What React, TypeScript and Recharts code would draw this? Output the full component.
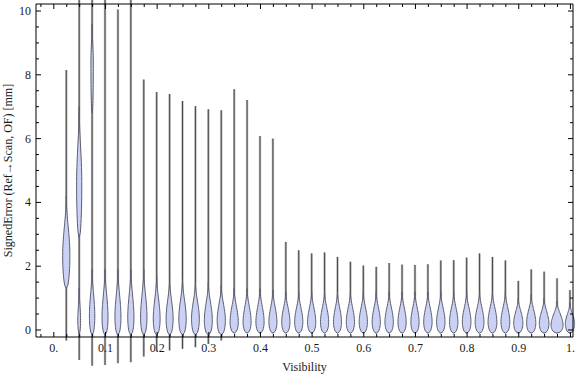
import { ComposedChart, Bar, Line, XAxis, YAxis } from 'recharts';

// Visibility bins (one violin per bin)
const visibility = [
  0.025, 0.05, 0.075, 0.1, 0.125, 0.15, 0.175, 0.2, 0.225, 0.25,
  0.275, 0.3, 0.325, 0.35, 0.375, 0.4, 0.425, 0.45, 0.475, 0.5,
  0.525, 0.55, 0.575, 0.6, 0.625, 0.65, 0.675, 0.7, 0.725, 0.75,
  0.775, 0.8, 0.825, 0.85, 0.875, 0.9, 0.925, 0.95, 0.975, 1.0,
];

// extent of each distribution [mm]
const errMin = [
  -0.33, -0.94, -1.12, -1.1, -1.04, -1.01, -0.83, -0.67, -0.64, -0.59,
  -0.54, -0.44, -0.33, -0.1, -0.1, -0.1, -0.1, -0.1, -0.1, -0.1,
  -0.1, -0.1, -0.1, -0.1, -0.1, -0.1, -0.1, -0.1, -0.1, -0.1,
  -0.1, -0.1, -0.1, -0.1, -0.1, -0.1, -0.1, -0.1, -0.1, -0.1,
];
const errMax = [
  8.15, 12, 12, 12, 10.05, 12, 7.85, 7.46, 7.4, 7.18,
  7.02, 6.92, 6.89, 7.55, 7.21, 6.08, 6.0, 2.76, 2.5, 2.4,
  2.43, 2.29, 2.14, 2.02, 1.98, 2.1, 2.05, 2.04, 2.06, 2.18,
  2.19, 2.27, 2.4, 2.29, 2.18, 1.54, 1.9, 1.83, 1.62, 1.25,
];

// main density bulge: low end, mode, high end, relative density
const bulgeLow = [
  1.3, 2.9, -0.15, -0.15, -0.15, -0.15, -0.15, -0.15, -0.15, -0.15,
  -0.15, -0.15, -0.15, -0.1, -0.1, -0.1, -0.1, -0.1, -0.1, -0.1,
  -0.1, -0.1, -0.1, -0.1, -0.1, -0.1, -0.1, -0.1, -0.1, -0.1,
  -0.1, -0.1, -0.1, -0.1, -0.1, -0.1, -0.1, -0.1, -0.1, -0.1,
];
const bulgeMode = [
  2.35, 4.6, 0.45, 0.4, 0.4, 0.4, 0.4, 0.35, 0.35, 0.35,
  0.35, 0.3, 0.3, 0.25, 0.25, 0.25, 0.25, 0.25, 0.25, 0.25,
  0.25, 0.25, 0.25, 0.25, 0.25, 0.25, 0.25, 0.25, 0.25, 0.25,
  0.25, 0.25, 0.25, 0.25, 0.25, 0.22, 0.22, 0.2, 0.15, 0.2,
];
const bulgeHigh = [
  4.2, 7.0, 1.9, 1.9, 1.9, 1.9, 1.9, 1.7, 1.6, 1.6,
  1.5, 1.5, 1.4, 1.3, 1.3, 1.3, 1.25, 1.2, 1.2, 1.2,
  1.2, 1.2, 1.2, 1.2, 1.2, 1.2, 1.2, 1.2, 1.2, 1.2,
  1.2, 1.2, 1.2, 1.2, 1.2, 1.0, 1.1, 1.0, 0.9, 0.85,
];
const bulgeDensity = [
  3.6, 2.6, 2.7, 3, 3, 3.1, 3.2, 3.4, 3.5, 3.7,
  3.9, 4, 4.1, 4.1, 4, 4.1, 4, 4.1, 4.1, 4.1,
  4.1, 4, 4.1, 4.1, 4.1, 4.2, 4.1, 4.1, 4.2, 4.2,
  4.2, 4.3, 4.4, 4.4, 4.4, 4.6, 4.6, 4.8, 6, 4.6,
];

// secondary bulge (only the low-visibility bins have one)
const bulge2Low = [null, -0.1, 6.8];
const bulge2Mode = [null, 0.3, 8.4];
const bulge2High = [null, 1.3, 9.6];
const bulge2Density = [null, 1.4, 1.2];

const X_MAJOR = [0, 0.1, 0.2, 0.3, 0.4, 0.5, 0.6, 0.7, 0.8, 0.9, 1.0];
const xTicks = Array.from({ length: 42 }, (_, i) => Math.round((i - 1) * 25) / 1000);
const yTicks = Array.from({ length: 21 }, (_, i) => i * 0.5);

const X_DOMAIN = [-0.0345, 1.005];
const Y_DOMAIN = [-0.22, 10.22];

const FONT = '"Liberation Serif", "Times New Roman", serif';
const FILL = '#cbd1f4';
const EDGE = '#5b5e6e';

// the bar spans [0, visible top]; the violin extends past it (not clipped, like the original)
const data = visibility.map((v, i) => {
  const bodies: any[] = [
    { lo: bulgeLow[i], mode: bulgeMode[i], hi: bulgeHigh[i], d: bulgeDensity[i] },
  ];
  if (bulge2Low[i] != null) {
    bodies.push({ lo: bulge2Low[i], mode: bulge2Mode[i], hi: bulge2High[i], d: bulge2Density[i] });
  }
  const top = Math.min(errMax[i], 10);
  return { v, min: errMin[i], max: errMax[i], anchor: [0, top], anchorTop: top, bodies };
});

const isMajorX = (v: number) => X_MAJOR.some((m) => Math.abs(m - v) < 1e-6);
const fmtX = (v: number) => (Math.abs(v) < 1e-6 ? '0.' : Math.abs(v - 1) < 1e-6 ? '1.' : v.toFixed(1));

function bodyPath(b: any, cx: number, py: (v: number) => number) {
  const n = 28;
  const right: [number, number][] = [];
  for (let k = 0; k <= n; k++) {
    const val = b.lo + ((b.hi - b.lo) * k) / n;
    let hw;
    if (val <= b.mode) {
      const t = (b.mode - val) / (b.mode - b.lo);
      hw = b.d * Math.sqrt(Math.max(0, 1 - t * t));
    } else {
      const s = (val - b.mode) / (b.hi - b.mode);
      hw = b.d * (1 - s) * (1 - s) * (1 + 2 * s);
    }
    right.push([hw, py(val)]);
  }
  let p = `M${cx},${right[0][1]}`;
  right.forEach(([hw, yy]) => (p += ` L${cx + hw},${yy}`));
  for (let k = right.length - 1; k >= 0; k--) p += ` L${cx - right[k][0]},${right[k][1]}`;
  return p + ' Z';
}

const Violin = (props: any) => {
  const { x, y, width, height, payload } = props;
  if (x == null || y == null || !payload) return null;
  const yTop = Math.min(y, y + height);
  const yZero = Math.max(y, y + height);
  const hi = payload.anchorTop;
  // linear map taken from the bar geometry (value 0 -> yZero, anchorTop -> yTop)
  const py = (val: number) => yZero - (val / hi) * (yZero - yTop);
  const cx = x + width / 2;
  const a = py(payload.max);
  const b = py(payload.min);
  return (
    <g>
      <line x1={cx} x2={cx} y1={a} y2={b} stroke="#b8b8b8" strokeWidth={2.4} />
      <line x1={cx} x2={cx} y1={a} y2={b} stroke="#4a4a4a" strokeWidth={1} />
      {payload.bodies.map((bd: any, i: number) => (
        <path key={i} d={bodyPath(bd, cx, py)} fill={FILL} stroke={EDGE} strokeWidth={1} />
      ))}
    </g>
  );
};

const BottomTick = ({ x, y, payload }: any) => {
  const major = isMajorX(payload.value);
  return (
    <g>
      <line x1={x} x2={x} y1={y} y2={y - (major ? 5 : 3)} stroke="#000" />
      {major && (
        <text x={x} y={y + 15} textAnchor="middle" fontFamily={FONT} fontSize={12} fill="#1a1a1a">
          {fmtX(payload.value)}
        </text>
      )}
    </g>
  );
};

const TopTick = ({ x, y, payload }: any) => {
  const major = isMajorX(payload.value);
  return <line x1={x} x2={x} y1={y} y2={y + (major ? 5 : 3)} stroke="#000" />;
};

const LeftTick = ({ x, y, payload }: any) => {
  const major = payload.value % 2 === 0;
  return (
    <g>
      <line x1={x} x2={x + (major ? 5 : 3)} y1={y} y2={y} stroke="#000" />
      {major && (
        <text x={x - 5} y={y + 4} textAnchor="end" fontFamily={FONT} fontSize={12} fill="#1a1a1a">
          {payload.value}
        </text>
      )}
    </g>
  );
};

const RightTick = ({ x, y, payload }: any) => {
  const major = payload.value % 2 === 0;
  return <line x1={x} x2={x - (major ? 5 : 3)} y1={y} y2={y} stroke="#000" />;
};

const YLabel = ({ viewBox }: any) => {
  const cy = viewBox.y + viewBox.height / 2;
  const lx = viewBox.x + 12;
  return (
    <text x={lx} y={cy} transform={`rotate(-90, ${lx}, ${cy})`} textAnchor="middle" fontFamily={FONT} fontSize={12} fill="#1a1a1a">
      SignedError (Ref→Scan, OF) [mm]
    </text>
  );
};

const XLabel = ({ viewBox }: any) => (
  <text x={viewBox.x + viewBox.width / 2} y={viewBox.y + 34} textAnchor="middle" fontFamily={FONT} fontSize={12} fill="#1a1a1a">
    Visibility
  </text>
);

export default function App() {
  return (
    <div style={{ position: 'absolute', left: 0, top: 0, width: 576, height: 377, background: '#fff' }}>
      <ComposedChart width={576} height={377} data={data} margin={{ top: 3, right: 2, bottom: 0, left: 0 }}>
        <XAxis
          type="number"
          dataKey="v"
          domain={X_DOMAIN}
          ticks={xTicks}
          interval={0}
          height={40}
          tickSize={0}
          tickMargin={0}
          tickLine={false}
          axisLine={{ stroke: '#000' }}
          tick={<BottomTick />}
          label={<XLabel />}
        />
        <XAxis
          xAxisId="top"
          orientation="top"
          type="number"
          dataKey="v"
          domain={X_DOMAIN}
          ticks={xTicks}
          interval={0}
          height={1}
          tickSize={0}
          tickMargin={0}
          tickLine={false}
          axisLine={{ stroke: '#000' }}
          tick={<TopTick />}
        />
        <YAxis
          type="number"
          domain={Y_DOMAIN}
          ticks={yTicks}
          interval={0}
          width={36}
          tickSize={0}
          tickMargin={0}
          tickLine={false}
          axisLine={{ stroke: '#000' }}
          tick={<LeftTick />}
          label={<YLabel />}
        />
        <YAxis
          yAxisId="right"
          orientation="right"
          type="number"
          domain={Y_DOMAIN}
          ticks={yTicks}
          interval={0}
          width={1}
          tickSize={0}
          tickMargin={0}
          tickLine={false}
          axisLine={{ stroke: '#000' }}
          tick={<RightTick />}
        />
        <Bar dataKey="anchor" barSize={12} shape={<Violin />} isAnimationActive={false} />
        <Line
          xAxisId="top"
          yAxisId="right"
          dataKey="anchorTop"
          stroke="none"
          dot={false}
          activeDot={false}
          isAnimationActive={false}
        />
      </ComposedChart>
    </div>
  );
}
